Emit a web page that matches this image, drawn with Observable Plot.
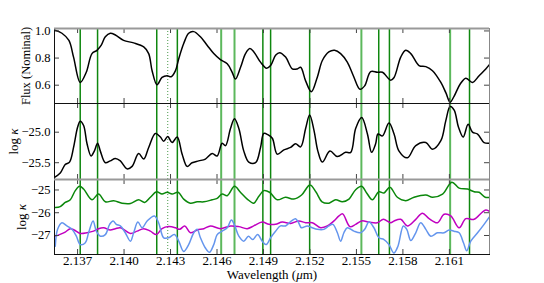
<!DOCTYPE html>
<html><head><meta charset="utf-8">
<script src="https://cdn.jsdelivr.net/npm/d3@7"></script>
<script src="https://cdn.jsdelivr.net/npm/@observablehq/plot@0.6"></script>
<style>
body{margin:0;background:#fff}
#chart{position:relative;width:544px;height:283px;overflow:hidden;background:#fff}
</style></head><body><div id="chart"></div>
<script>
// ---------- data ----------
const xTicks = [2.137, 2.140, 2.143, 2.146, 2.149, 2.152, 2.155, 2.158, 2.161];
const fluxTicks = [0.6, 0.8, 1.0];
const kapTicks = [-25.5, -25.0];
const opTicks = [-27, -26, -25];

const lineWave = [2.13717,2.13829,2.14211,2.14344,2.14627,2.14713,2.14896,2.14946,2.15198,2.15532,2.15644,2.15713,2.16105,2.16230];
const lineGroup = ["dark","dark","dark","dark","light","light","dark","dark","dark","light","dark","dark","light","dark"];
const dottedWave = [2.14282];

const fluxWave = [2.13551,2.13599,2.13644,2.13674,2.13717,2.13756,2.13793,2.13825,2.13853,2.13879,2.13911,2.13944,2.13997,2.14062,2.14127,2.14159,2.14181,2.14213,2.14245,2.14278,2.14304,2.14332,2.14353,2.14385,2.14417,2.14450,2.14493,2.14536,2.14579,2.14622,2.14666,2.14698,2.14719,2.14752,2.14784,2.14812,2.14838,2.14881,2.14920,2.14946,2.14978,2.15004,2.15043,2.15086,2.15118,2.15140,2.15172,2.15209,2.15247,2.15280,2.15322,2.15359,2.15398,2.15441,2.15480,2.15523,2.15553,2.15592,2.15635,2.15668,2.15721,2.15743,2.15786,2.15818,2.15851,2.15904,2.15948,2.15991,2.16045,2.16077,2.16105,2.16131,2.16169,2.16206,2.16249,2.16292,2.16335,2.16363];
const fluxVal = [1.007,0.983,0.93,0.807,0.62,0.695,0.833,0.857,0.895,0.957,0.983,0.97,0.93,0.912,0.882,0.833,0.707,0.603,0.657,0.67,0.662,0.707,0.795,0.907,0.983,0.995,0.957,0.895,0.833,0.788,0.758,0.695,0.645,0.732,0.833,0.87,0.845,0.77,0.725,0.745,0.82,0.84,0.807,0.72,0.72,0.732,0.632,0.552,0.657,0.782,0.845,0.857,0.833,0.77,0.67,0.57,0.595,0.7,0.695,0.695,0.637,0.657,0.807,0.857,0.833,0.745,0.737,0.707,0.62,0.545,0.475,0.52,0.607,0.652,0.62,0.67,0.72,0.758];

const kapWave = [2.13551,2.13588,2.13620,2.13648,2.13674,2.13700,2.13717,2.13739,2.13761,2.13787,2.13808,2.13829,2.13847,2.13879,2.13911,2.13944,2.13976,2.14019,2.14052,2.14094,2.14127,2.14159,2.14202,2.14235,2.14256,2.14282,2.14310,2.14343,2.14375,2.14407,2.14439,2.14482,2.14525,2.14569,2.14601,2.14633,2.14655,2.14687,2.14713,2.14741,2.14773,2.14805,2.14849,2.14881,2.14902,2.14928,2.14957,2.14989,2.15032,2.15075,2.15107,2.15140,2.15172,2.15198,2.15226,2.15251,2.15280,2.15329,2.15377,2.15430,2.15463,2.15495,2.15534,2.15571,2.15598,2.15624,2.15639,2.15668,2.15710,2.15743,2.15775,2.15829,2.15883,2.15948,2.15991,2.16045,2.16077,2.16105,2.16131,2.16159,2.16189,2.16221,2.16249,2.16282,2.16324,2.16363];
const kapVal = [-25.74,-25.67,-25.53,-25.49,-25.25,-24.92,-24.82,-24.89,-25.19,-25.39,-25.31,-25.18,-25.31,-25.5,-25.47,-25.43,-25.47,-25.6,-25.56,-25.35,-25.44,-25.25,-25.02,-25.08,-25.15,-25.07,-25.17,-25.08,-25.36,-25.56,-25.5,-25.47,-25.44,-25.35,-25.39,-25.18,-25.22,-24.94,-24.78,-24.94,-25.31,-25.49,-25.5,-25.25,-25.02,-25.04,-25.1,-25.36,-25.29,-25.25,-25.19,-25.24,-24.94,-24.72,-24.97,-25.31,-25.49,-25.31,-25.4,-25.33,-25.33,-24.94,-24.76,-25.03,-25.33,-25.19,-25.03,-25.06,-24.85,-25.03,-25.31,-25.42,-25.22,-25.17,-25.28,-25.14,-24.81,-24.58,-24.64,-24.92,-25.08,-24.87,-25.0,-25.03,-25.17,-25.18];

const grnWave = [2.13556,2.13588,2.13620,2.13653,2.13685,2.13713,2.13739,2.13793,2.13835,2.13879,2.13933,2.13987,2.14041,2.14094,2.14133,2.14170,2.14209,2.14245,2.14278,2.14310,2.14349,2.14385,2.14428,2.14472,2.14515,2.14569,2.14601,2.14633,2.14666,2.14713,2.14751,2.14795,2.14837,2.14870,2.14902,2.14939,2.14989,2.15042,2.15096,2.15146,2.15200,2.15240,2.15278,2.15323,2.15366,2.15409,2.15452,2.15495,2.15534,2.15566,2.15603,2.15645,2.15678,2.15716,2.15764,2.15818,2.15872,2.15948,2.15991,2.16056,2.16116,2.16163,2.16217,2.16260,2.16292,2.16331,2.16363];
const grnVal = [-25.77,-25.73,-25.55,-25.43,-25.03,-24.84,-24.96,-25.43,-25.18,-25.52,-25.47,-25.58,-25.59,-25.43,-25.55,-25.32,-25.08,-25.18,-25.1,-25.18,-25.1,-25.4,-25.58,-25.52,-25.52,-25.43,-25.37,-25.18,-25.25,-24.84,-25.1,-25.4,-25.58,-25.28,-25.03,-25.1,-25.43,-25.32,-25.4,-25.22,-24.78,-25.1,-25.52,-25.58,-25.43,-25.52,-25.4,-24.99,-24.84,-25.13,-25.43,-25.08,-25.13,-24.88,-25.32,-25.47,-25.32,-25.22,-25.32,-25.18,-24.66,-24.92,-24.96,-25.08,-25.1,-25.32,-25.32];

const magWave = [2.13556,2.13584,2.13620,2.13653,2.13678,2.13717,2.13761,2.13803,2.13835,2.13868,2.13911,2.13944,2.13976,2.14041,2.14084,2.14127,2.14170,2.14209,2.14245,2.14288,2.14332,2.14359,2.14392,2.14428,2.14472,2.14515,2.14558,2.14622,2.14687,2.14741,2.14795,2.14837,2.14892,2.14935,2.14978,2.15021,2.15075,2.15128,2.15172,2.15215,2.15269,2.15312,2.15355,2.15387,2.15411,2.15458,2.15495,2.15534,2.15581,2.15635,2.15674,2.15721,2.15743,2.15786,2.15829,2.15883,2.15926,2.15969,2.16023,2.16066,2.16109,2.16163,2.16206,2.16260,2.16310,2.16335,2.16363];
const magVal = [-27.03,-26.96,-26.85,-26.7,-26.76,-26.91,-26.88,-26.81,-26.7,-26.66,-26.76,-26.7,-26.66,-26.91,-26.81,-26.7,-26.81,-26.96,-26.7,-26.61,-26.66,-26.73,-26.58,-26.88,-26.76,-26.7,-26.58,-26.7,-26.58,-26.61,-26.7,-26.58,-26.41,-26.51,-26.51,-26.41,-26.47,-26.36,-26.44,-26.44,-26.66,-26.58,-26.36,-26.14,-26.05,-26.61,-26.51,-26.36,-26.41,-26.44,-26.29,-26.44,-26.36,-26.29,-26.58,-26.29,-26.02,-26.26,-26.44,-26.07,-26.14,-26.66,-26.26,-26.29,-25.99,-25.88,-25.96];

const bluWave = [2.13556,2.13571,2.13599,2.13631,2.13664,2.13692,2.13717,2.13750,2.13771,2.13800,2.13821,2.13847,2.13879,2.13907,2.13929,2.13950,2.13976,2.14008,2.14041,2.14062,2.14089,2.14117,2.14149,2.14196,2.14223,2.14256,2.14288,2.14325,2.14353,2.14385,2.14417,2.14450,2.14472,2.14493,2.14525,2.14551,2.14579,2.14601,2.14633,2.14666,2.14693,2.14715,2.14741,2.14773,2.14803,2.14830,2.14862,2.14892,2.14918,2.14946,2.14978,2.15010,2.15042,2.15081,2.15107,2.15127,2.15145,2.15183,2.15215,2.15247,2.15290,2.15322,2.15348,2.15377,2.15398,2.15419,2.15441,2.15484,2.15527,2.15553,2.15581,2.15613,2.15645,2.15678,2.15710,2.15742,2.15768,2.15803,2.15825,2.15851,2.15883,2.15915,2.15948,2.15980,2.16023,2.16066,2.16098,2.16130,2.16163,2.16191,2.16212,2.16238,2.16282,2.16324,2.16363];
const bluVal = [-27.47,-26.73,-26.44,-26.58,-26.73,-27.03,-27.4,-27.32,-26.88,-26.36,-26.81,-27.03,-26.96,-26.51,-26.36,-26.51,-26.58,-26.88,-27.25,-26.88,-26.41,-26.66,-26.36,-26.14,-26.44,-27.1,-27.1,-26.96,-27.25,-27.7,-27.4,-26.88,-26.73,-27.1,-27.55,-27.74,-27.4,-26.96,-26.81,-26.66,-26.32,-26.58,-27.03,-27.25,-27.03,-27.18,-26.96,-27.25,-27.4,-27.1,-26.81,-26.58,-26.58,-26.36,-26.26,-26.44,-26.66,-26.58,-26.66,-26.73,-26.73,-26.58,-26.51,-26.88,-27.25,-26.88,-26.66,-26.81,-26.88,-26.73,-26.41,-26.66,-27.1,-27.18,-27.4,-27.77,-27.47,-26.58,-26.73,-27.22,-26.88,-26.44,-26.73,-27.03,-26.88,-26.88,-26.76,-26.81,-26.88,-27.32,-27.67,-27.25,-26.88,-26.51,-26.14];

// ---------- layout ----------
const FONT = '"Liberation Serif", "Times New Roman", serif';
const W = 544, ML = 54, MR = 55, PW = W - ML - MR;
const xDomain = [2.13551, 2.16359];
const zip = (w, v) => w.slice(0, Math.min(w.length, v.length)).map((x, i) => ({w: x, v: v[i]}));
const lineRows = lineWave.map((w, i) => ({w, g: lineGroup[i]}));

function panel({top, plotH, mt, mb, yDomain, yTicks, yFmt, yLabel, labelOffset, series, showX, grayTop}) {
  const height = mt + plotH + mb;
  const marks = [
    Plot.ruleX(lineRows.filter(d => d.g === "light"), {x: "w", stroke: "#5cb85c", strokeWidth: 2}),
    Plot.ruleX(lineRows.filter(d => d.g === "dark"), {x: "w", stroke: "#0f870f", strokeWidth: 1.5}),
    Plot.ruleX(dottedWave, {stroke: "#4a9a4a", strokeWidth: 1, strokeDasharray: "1,2"}),
    ...series.map(s => Plot.line(zip(s.w, s.v), {x: "w", y: "v", stroke: s.color, strokeWidth: 1.5, curve: "catmull-rom", clip: true})),
    Plot.tickX(xTicks, {insetBottom: plotH - 5, stroke: "#444"}),
    Plot.tickX(xTicks, {insetTop: plotH - 5, stroke: "#444"}),
    Plot.tickY(yTicks, {insetRight: PW - 5, stroke: "#444"}),
    Plot.tickY(yTicks, {insetLeft: PW - 5, stroke: "#444"}),
    Plot.frame({stroke: "#111"}),
    Plot.ruleX([xDomain[1]], {stroke: "#888"}),
    Plot.axisY({ticks: yTicks, tickFormat: yFmt, tickSize: 0, tickPadding: 4, fontSize: 12.5,
      label: yLabel, labelAnchor: "center", labelOffset, labelArrow: "none"})
  ];
  if (grayTop) marks.push(Plot.ruleY([yDomain[1]], {stroke: "#999", strokeWidth: 2}));
  if (showX) marks.push(Plot.axisX({ticks: xTicks, tickFormat: d3.format(".3f"), tickSize: 0, tickPadding: 1,
      fontSize: 13, label: "Wavelength (μm)", labelAnchor: "center", labelOffset: 24, labelArrow: "none"}));
  const svg = Plot.plot({
    width: W, height, marginLeft: ML, marginRight: MR, marginTop: mt, marginBottom: mb,
    x: {domain: xDomain, ...(showX ? {} : {axis: null})},
    y: {domain: yDomain},
    style: {fontFamily: FONT, background: "transparent", overflow: "visible"},
    marks
  });
  svg.style.position = "absolute";
  svg.style.left = "0px";
  svg.style.top = top + "px";
  svg.style.overflow = "visible";
  svg.style.maxWidth = "none";
  return svg;
}

function richLabel(svg, target, parts, size) {
  svg.querySelectorAll("text").forEach(t => {
    if (t.textContent === target) {
      t.textContent = "";
      for (const [s, it] of parts) {
        const ts = document.createElementNS("http://www.w3.org/2000/svg", "tspan");
        ts.textContent = s;
        if (it) ts.setAttribute("font-style", "italic");
        t.appendChild(ts);
      }
      t.setAttribute("font-size", size);
    }
  });
}

const chart = document.getElementById("chart");
const p1 = panel({top: 0, plotH: 75, mt: 28, mb: 0, yDomain: [0.465, 1.018], yTicks: fluxTicks,
  yFmt: d3.format(".1f"), yLabel: "Flux (Nominal)", labelOffset: 33,
  series: [{w: fluxWave, v: fluxVal, color: "#000"}], grayTop: true});
const p2 = panel({top: 103, plotH: 76, mt: 0, mb: 0, yDomain: [-25.775, -24.53], yTicks: kapTicks,
  yFmt: d3.format(".1f"), yLabel: "log κ", labelOffset: 46,
  series: [{w: kapWave, v: kapVal, color: "#000"}]});
const p3 = panel({top: 179, plotH: 75, mt: 0, mb: 29, yDomain: [-27.835, -24.54], yTicks: opTicks,
  yFmt: d3.format("d"), yLabel: "log κ ", labelOffset: 38,
  series: [{w: grnWave, v: grnVal, color: "#0a870a"}, {w: magWave, v: magVal, color: "#c000c0"}, {w: bluWave, v: bluVal, color: "#6495ed"}],
  showX: true, grayTop: true});
chart.append(p1, p2, p3);
richLabel(p1, "Flux (Nominal)", [["Flux (Nominal)", false]], 12.5);
richLabel(p2, "log κ", [["log ", false], ["κ", true]], 13);
richLabel(p3, "log κ ", [["log ", false], ["κ", true]], 13);
richLabel(p3, "Wavelength (μm)", [["Wavelength (", false], ["μ", true], ["m)", false]], 13);
</script></body></html>
